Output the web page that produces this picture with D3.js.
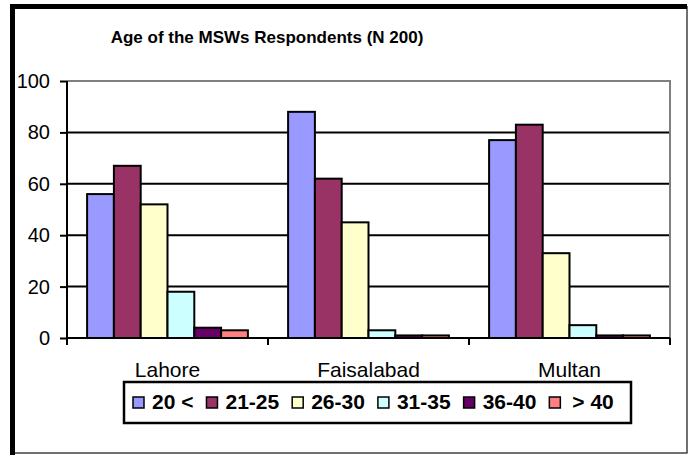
<!DOCTYPE html>
<html>
<head>
<meta charset="utf-8">
<script src="https://cdn.jsdelivr.net/npm/d3@7"></script>
<style>
  body { margin: 0; background: #fff; }
  text { font-family: "Liberation Sans", Arial, sans-serif; }
</style>
</head>
<body>
<div id="chart"></div>
<script>
// data (respondents per age group, N = 200 per city)
const cities = ["Lahore", "Faisalabad", "Multan"]
const ageGroups = ["20 <", "21-25", "26-30", "31-35", "36-40", "> 40"]
const lahore = [56, 67, 52, 18, 4, 3]
const faisalabad = [88, 62, 45, 3, 1, 1]
const multan = [77, 83, 33, 5, 1, 1]
const yTicks = [0, 20, 40, 60, 80, 100]
const colors = ["#9999FF", "#993366", "#FFFFCC", "#CCFFFF", "#660066", "#FF8080"]

const W = 689, H = 455
const PLOT = { LEFT: 67, RIGHT: 670, TOP: 81, BOTTOM: 338 }

const svg = d3.select("#chart")
  .append("svg")
    .attr("width", W)
    .attr("height", H)

// outer frame: heavy black top/left, thin grey bottom/right
svg.append("line").attr("x1", 687).attr("y1", 6).attr("x2", 687).attr("y2", 453)
  .attr("stroke", "#404040").attr("stroke-width", 1.5)
svg.append("line").attr("x1", 10).attr("y1", 453).attr("x2", 687.5).attr("y2", 453)
  .attr("stroke", "#404040").attr("stroke-width", 1.5)
svg.append("line").attr("x1", 12.5).attr("y1", 4).attr("x2", 12.5).attr("y2", H)
  .attr("stroke", "#000").attr("stroke-width", 5)
svg.append("line").attr("x1", 10).attr("y1", 6.5).attr("x2", 687).attr("y2", 6.5)
  .attr("stroke", "#000").attr("stroke-width", 5)

svg.append("text")
  .attr("x", 267)
  .attr("y", 43)
  .attr("text-anchor", "middle")
  .attr("font-size", 17)
  .attr("font-weight", "bold")
  .text("Age of the MSWs Respondents (N 200)")

const rows = cities.map((c, i) => ({
  city: c,
  values: [lahore, faisalabad, multan][i]
}))

const x0 = d3.scaleBand()
  .domain(cities)
  .range([PLOT.LEFT, PLOT.RIGHT])

const x1 = d3.scaleBand()
  .domain(ageGroups)
  .range([0, x0.bandwidth()])
  .paddingInner(0)
  .paddingOuter(0.75)

const y = d3.scaleLinear()
  .domain([0, 100])
  .range([PLOT.BOTTOM, PLOT.TOP])

// gridlines
svg.append("g")
  .selectAll("line")
  .data(yTicks.filter(t => t > 0 && t < 100))
  .enter().append("line")
    .attr("x1", PLOT.LEFT).attr("x2", PLOT.RIGHT)
    .attr("y1", d => y(d)).attr("y2", d => y(d))
    .attr("stroke", "#000")
    .attr("stroke-width", 2)

// plot area border (top/right grey)
svg.append("path")
  .attr("d", `M${PLOT.LEFT},${y(100)}H${PLOT.RIGHT}V${PLOT.BOTTOM}`)
  .attr("fill", "none")
  .attr("stroke", "#808080")
  .attr("stroke-width", 2)

// bars
const groups = svg.append("g")
  .selectAll("g")
  .data(rows)
  .enter().append("g")
    .attr("transform", d => `translate(${x0(d.city)},0)`)

groups.selectAll("rect")
  .data(d => d.values.map((v, i) => ({ key: ageGroups[i], value: v, color: colors[i] })))
  .enter().append("rect")
    .attr("x", d => x1(d.key))
    .attr("y", d => y(d.value))
    .attr("width", x1.bandwidth())
    .attr("height", d => y(0) - y(d.value))
    .attr("fill", d => d.color)
    .attr("stroke", "#000")
    .attr("stroke-width", 2)

// y axis
const yAxisCall = d3.axisLeft(y)
  .tickValues(yTicks)
  .tickSize(7)
  .tickPadding(10)
svg.append("g")
  .attr("transform", `translate(${PLOT.LEFT},0)`)
  .call(yAxisCall)
  .call(g => g.select(".domain").attr("stroke-width", 2).attr("d", `M0,${y(100)}V${y(0)}`))
  .call(g => g.selectAll(".tick line").attr("stroke-width", 2))
  .call(g => g.selectAll(".tick text")
    .attr("font-family", "'Liberation Sans', Arial, sans-serif")
    .attr("font-size", 20)
    .attr("fill", "#000"))

// x axis: ticks on category boundaries, labels centred
const xg = svg.append("g")
xg.append("line")
  .attr("x1", PLOT.LEFT).attr("x2", PLOT.RIGHT)
  .attr("y1", y(0)).attr("y2", y(0))
  .attr("stroke", "#000").attr("stroke-width", 2)
xg.selectAll(".bound")
  .data(cities.map(c => x0(c)).concat([x0.range()[1]]))
  .enter().append("line")
    .attr("class", "bound")
    .attr("x1", d => d).attr("x2", d => d)
    .attr("y1", y(0)).attr("y2", y(0) + 7)
    .attr("stroke", "#000").attr("stroke-width", 2)
xg.selectAll("text")
  .data(cities)
  .enter().append("text")
    .attr("x", d => x0(d) + x0.bandwidth() / 2)
    .attr("y", 377)
    .attr("text-anchor", "middle")
    .attr("font-size", 21)
    .text(d => d)

// legend
const legend = svg.append("g")
legend.append("rect")
  .attr("x", 124).attr("y", 382)
  .attr("width", 507).attr("height", 41)
  .attr("fill", "#fff")
  .attr("stroke", "#000")
  .attr("stroke-width", 2.5)

let lx = 133
ageGroups.forEach((g, i) => {
  const item = legend.append("g").attr("transform", `translate(${lx},0)`)
  item.append("rect")
    .attr("x", 0).attr("y", 397)
    .attr("width", 11).attr("height", 11)
    .attr("fill", colors[i])
    .attr("stroke", "#000")
    .attr("stroke-width", 1.5)
  const t = item.append("text")
    .attr("x", i === 5 ? 23 : 19)
    .attr("y", 409)
    .attr("font-size", 21)
    .attr("font-weight", "bold")
    .text(g)
  lx += 19 + t.node().getComputedTextLength() + 13
})
</script>
</body>
</html>
